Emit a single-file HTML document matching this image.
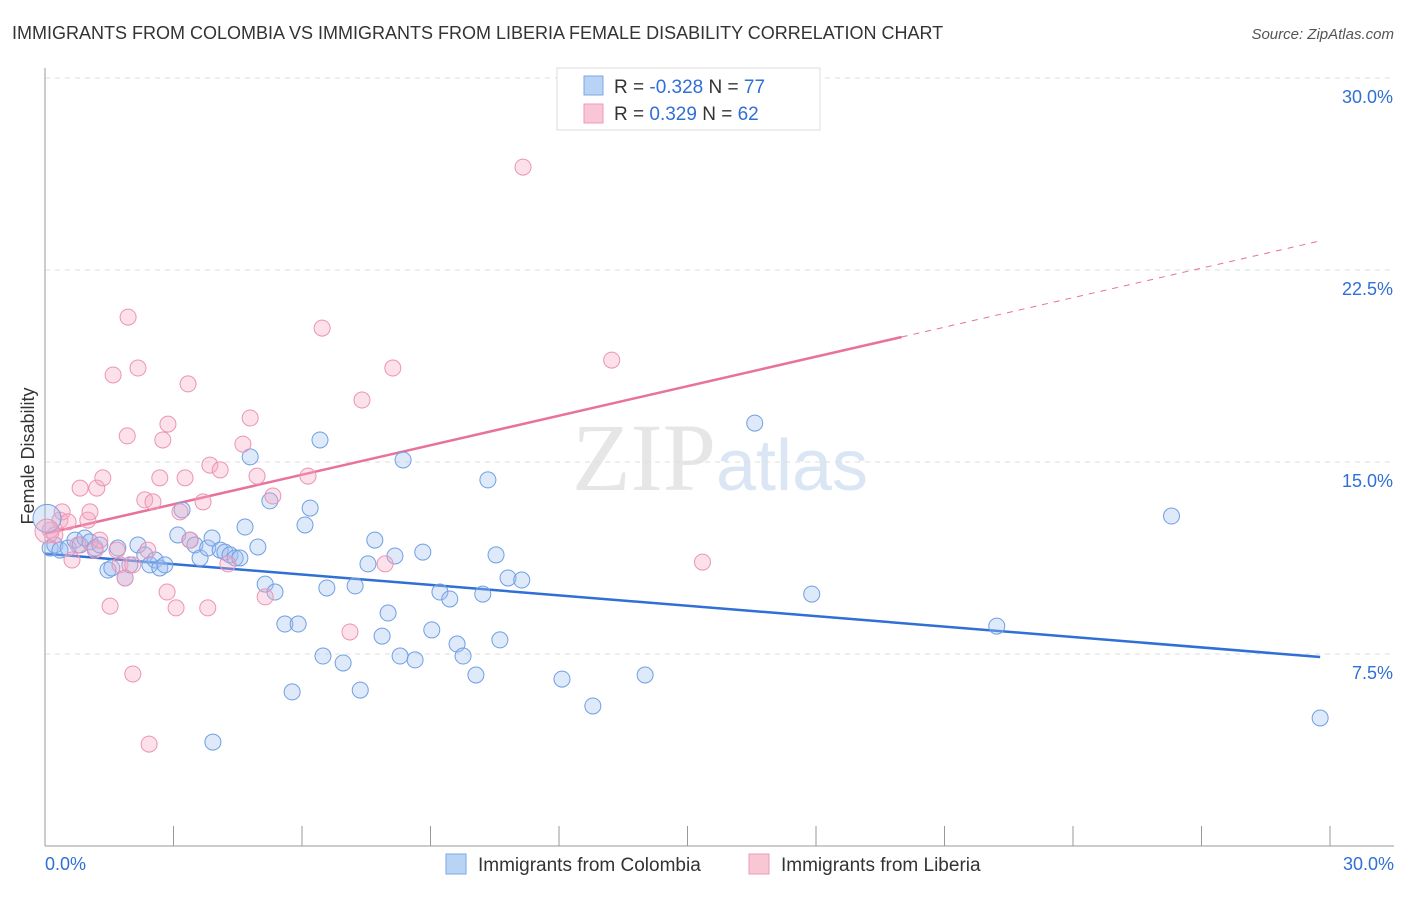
<!DOCTYPE html>
<html><head><meta charset="utf-8"><style>
body{margin:0;background:#fff;font-family:"Liberation Sans",sans-serif;}
</style></head><body>
<svg id="chart" width="1406" height="892" xmlns="http://www.w3.org/2000/svg" font-family="Liberation Sans, sans-serif">
<text x="12" y="39" font-size="18" fill="#333">IMMIGRANTS FROM COLOMBIA VS IMMIGRANTS FROM LIBERIA FEMALE DISABILITY CORRELATION CHART</text>
<text x="1394" y="39" font-size="15" fill="#555" font-style="italic" text-anchor="end">Source: ZipAtlas.com</text>
<text x="720" y="490" font-size="96" fill="#e6e6e6" text-anchor="middle" font-family="Liberation Serif, serif">ZIP<tspan fill="#dbe6f5" font-family="Liberation Sans, sans-serif" font-size="72">atlas</tspan></text>
<text transform="translate(34,456) rotate(-90)" font-size="18" fill="#333" text-anchor="middle">Female Disability</text>
<g id="grid"></g><g id="axes"></g><g id="trends"></g><g id="points"></g>
<g>
<rect x="557" y="68" width="263" height="62" fill="#fff" stroke="#ddd"/>
<rect x="584" y="76" width="19" height="19" fill="#b9d3f5" stroke="#7aa7e6"/>
<rect x="584" y="104" width="19" height="19" fill="#f9c6d6" stroke="#ee9ab6"/>
<text x="614" y="93" font-size="19" fill="#333">R = <tspan fill="#2f6fd6">-0.328</tspan>   N = <tspan fill="#2f6fd6">77</tspan></text>
<text x="614" y="120" font-size="19" fill="#333">R =  <tspan fill="#2f6fd6"> 0.329</tspan>   N = <tspan fill="#2f6fd6">62</tspan></text>
</g>
<g>
<rect x="446" y="854" width="20" height="20" fill="#b9d3f5" stroke="#7aa7e6"/>
<text x="478" y="871" font-size="19" fill="#333">Immigrants from Colombia</text>
<rect x="749" y="854" width="20" height="20" fill="#f9c6d6" stroke="#ee9ab6"/>
<text x="781" y="871" font-size="19" fill="#333">Immigrants from Liberia</text>
</g>
</svg>
<script>
const yTicks=[7.5,15,22.5,30];
const yTickLabels=["7.5%","15.0%","22.5%","30.0%"];
const xTickLabels=["0.0%","30.0%"];
const colX=[0.12,0.23,0.35,0.54,0.70,0.82,0.93,1.05,1.17,1.28,1.47,1.56,1.70,1.87,1.98,2.17,2.33,2.45,2.57,2.68,2.80,3.92,3.10,3.20,3.39,3.50,3.62,3.80,3.90,4.09,4.20,4.32,4.44,4.55,4.67,4.79,4.97,5.14,5.25,5.37,5.60,5.77,5.91,6.07,6.19,6.42,6.49,6.58,6.96,7.24,7.36,7.54,7.70,7.87,8.01,8.17,8.29,8.36,8.64,8.82,9.03,9.22,9.45,9.62,9.76,10.06,10.22,10.34,10.53,10.62,10.81,11.13,12.07,12.79,14.01,16.57,17.90,22.22,26.30,29.77];
const colY=[11.64,11.76,11.56,11.64,11.95,11.76,12.03,11.88,11.64,11.76,10.78,10.86,11.64,10.47,10.98,11.76,11.37,10.98,11.17,10.86,10.98,4.06,12.15,13.13,11.95,11.76,11.25,11.64,12.03,11.56,11.48,11.37,11.25,11.25,12.46,15.20,11.68,10.23,13.48,9.92,8.67,6.02,8.67,12.54,13.20,15.86,7.42,10.08,7.15,10.16,6.09,11.02,11.95,8.20,9.10,11.33,7.42,15.08,7.27,11.48,8.44,9.92,9.65,7.89,7.42,6.68,9.84,14.30,11.37,8.05,10.47,10.39,6.52,5.47,6.68,16.52,9.84,8.59,12.89,5.00];
const libX=[0.12,0.23,0.35,0.40,0.54,0.63,0.77,0.82,1.00,1.05,1.17,1.21,1.28,1.35,1.52,1.59,1.68,1.75,1.87,1.92,1.94,2.05,2.17,2.33,2.40,2.43,2.52,2.68,2.75,2.85,2.87,3.06,3.15,3.27,3.34,3.38,3.69,3.80,3.85,4.09,4.27,4.62,4.79,4.95,5.14,5.32,6.14,6.47,7.12,7.40,7.94,8.12,11.16,13.23,15.35,2.05];
const libY=[12.34,12.15,12.73,13.05,12.66,11.17,11.76,13.98,12.73,13.05,11.56,13.98,11.95,14.38,9.37,18.40,11.56,10.98,10.47,16.02,20.66,10.98,18.67,13.52,11.56,3.98,13.44,14.38,15.86,9.92,16.48,9.30,13.05,14.38,18.05,11.95,13.44,9.30,14.88,14.69,11.02,15.70,16.72,14.45,9.73,13.67,14.45,20.23,8.36,17.42,11.02,18.67,26.52,18.98,11.09,6.72];
const X0=45,X1=1330,Y0=846,PX=(X1-X0)/30,PY=(846-78)/30;
const sx=v=>X0+v*PX, sy=v=>Y0-v*PY;
const NS="http://www.w3.org/2000/svg";
function mk(parent,tag,attrs){const e=document.createElementNS(NS,tag);for(const k in attrs)e.setAttribute(k,attrs[k]);document.getElementById(parent).appendChild(e);return e;}
yTicks.forEach((t,i)=>{
 const g=mk('grid','line',{x1:X0,x2:1394,y1:sy(t),y2:sy(t),stroke:'#ddd','stroke-dasharray':'5,5'});
 
 
 const l=mk('grid','text',{x:1393,y:sy(t)+25,'font-size':18,fill:'#2f6fd6','text-anchor':'end'});
 l.textContent=yTickLabels[i];
 
 
});
const ax=mk('axes','line',{x1:X0,x2:X0,y1:68,y2:Y0,stroke:'#999'});


const bx=mk('axes','line',{x1:X0,x2:1394,y1:Y0,y2:Y0,stroke:'#999'});


for(let i=0;i<=10;i++){
 const t=mk('axes','line',{x1:sx(i*3),x2:sx(i*3),y1:826,y2:Y0,stroke:'#999'});
 
 
}
[[0,'start',X0],[30,'end',1394]].forEach((d,i)=>{
 const l=mk('axes','text',{x:d[2],y:870,'font-size':18,fill:'#2f6fd6','text-anchor':d[1]});
 l.textContent=xTickLabels[i];
 
 
});
function fit(xs,ys){const n=xs.length;let mx=0,my=0;for(let i=0;i<n;i++){mx+=xs[i];my+=ys[i];}mx/=n;my/=n;let a=0,b=0;for(let i=0;i<n;i++){a+=(xs[i]-mx)*(ys[i]-my);b+=(xs[i]-mx)**2;}const m=a/b;return [m,my-m*mx];}
function dots(xs,ys,fill,stroke,name){xs.forEach((x,i)=>{
 const c=mk('points','circle',{cx:sx(x),cy:sy(ys[i]),r:8,fill:fill,stroke:stroke,'stroke-width':1});
 
 
});}
dots(colX,colY,'rgba(160,192,240,0.35)','#6f9fe3','colombia-point');
dots(libX,libY,'rgba(246,170,196,0.35)','#eb94b4','liberia-point');
const bc=mk('points','circle',{cx:X0+2,cy:sy(12.8),r:14,fill:'rgba(160,192,240,0.35)',stroke:'#6f9fe3'});


const pc=mk('points','circle',{cx:X0+2,cy:sy(12.3),r:12,fill:'rgba(246,170,196,0.35)',stroke:'#eb94b4'});


const [bm,bb]=fit(colX,colY);
const bl=mk('trends','line',{x1:sx(0),y1:sy(bb),x2:sx(midCap=29.77),y2:sy(bb+bm*29.77),stroke:'#2f6fd6','stroke-width':2.5});


const [pm,pb]=fit(libX,libY);
const pl=mk('trends','line',{x1:sx(0),y1:sy(pb),x2:sx(20),y2:sy(pb+pm*20),stroke:'#e8729a','stroke-width':2.5});


const pd=mk('trends','line',{x1:sx(20),y1:sy(pb+pm*20),x2:sx(29.77),y2:sy(pb+pm*29.77),stroke:'#e8729a','stroke-width':1,'stroke-dasharray':'6,6'});


</script>
</body></html>
